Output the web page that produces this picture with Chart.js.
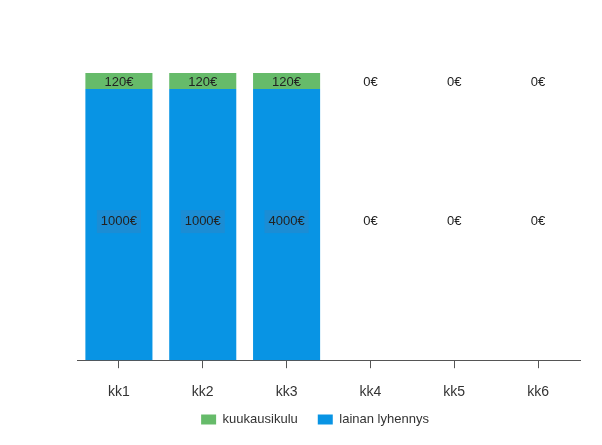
<!DOCTYPE html>
<html>
<head>
<meta charset="utf-8">
<script src="https://cdn.jsdelivr.net/npm/chart.js@4/dist/chart.umd.min.js"></script>
<style>
  body { margin: 0; background: #fff; }
</style>
</head>
<body>
<canvas id="myChart" width="602" height="445"></canvas>
<script>
// kuukaudet ja summat
const kuukaudet = ['kk1', 'kk2', 'kk3', 'kk4', 'kk5', 'kk6'];
const kuukausikulu = [120, 120, 120, 0, 0, 0];
const lainanLyhennys = [1000, 1000, 4000, 0, 0, 0];
// pylväiden korkeudet kuten kuvassa (kaikki täydet pylväät yhtä korkeita)
const kuluPalkki = [1, 1, 1, 0, 0, 0];
const lyhennysPalkki = [17, 17, 17, 0, 0, 0];

const sininen = '#0894e4';
const vihrea = '#66bb6a';

Chart.defaults.font.family = "'Liberation Sans', Arial, sans-serif";
Chart.defaults.font.size = 13;
Chart.defaults.color = '#333';

// tekstit pylväiden päälle
const summaTekstit = {
  id: 'summaTekstit',
  afterDatasetsDraw(chart) {
    const ctx = chart.ctx;
    const xs = chart.scales.x;
    const ys = chart.scales.y;
    const alaMax = Math.max(...lyhennysPalkki);
    const ylaMax = Math.max(...kuluPalkki);
    const rivit = [
      { summat: lainanLyhennys, keski: alaMax / 2, siirto: -3, tausta: '#1b8dd5' },
      { summat: kuukausikulu, keski: alaMax + ylaMax / 2, siirto: 1, tausta: null }
    ];
    ctx.save();
    ctx.font = "13px 'Liberation Sans', Arial, sans-serif";
    ctx.textAlign = 'center';
    ctx.textBaseline = 'middle';
    rivit.forEach((r) => {
      const py = ys.getPixelForValue(r.keski) + r.siirto;
      r.summat.forEach((s, i) => {
        const px = xs.getPixelForValue(i);
        const teksti = s + '€';
        if (r.tausta && s > 0) {
          const w = ctx.measureText(teksti).width + 8;
          ctx.fillStyle = r.tausta;
          ctx.fillRect(px - w / 2, py - 11.5, w, 23);
        }
        ctx.fillStyle = '#222';
        ctx.fillText(teksti, px, py);
      });
    });
    ctx.restore();
  }
};

// selite hieman ylemmäs
const seliteYlos = {
  id: 'seliteYlos',
  afterLayout(chart) {
    if (chart.legend) {
      chart.legend.top -= 24;
      chart.legend.bottom -= 24;
    }
  }
};

const graphArea = document.getElementById('myChart').getContext('2d');
const myChart = new Chart(graphArea, {
  type: 'bar',
  data: {
    labels: kuukaudet,
    datasets: [
      {
        label: 'lainan lyhennys',
        data: lyhennysPalkki,
        backgroundColor: sininen,
        categoryPercentage: 1,
        barPercentage: 0.8
      },
      {
        label: 'kuukausikulu',
        data: kuluPalkki,
        backgroundColor: vihrea,
        categoryPercentage: 1,
        barPercentage: 0.8
      }
    ]
  },
  options: {
    responsive: false,
    animation: false,
    layout: { padding: { left: 50, right: 22, top: 73, bottom: -15 } },
    plugins: {
      tooltip: { enabled: false },
      legend: {
        position: 'bottom',
        reverse: true,
        labels: { boxWidth: 15, boxHeight: 10, padding: 20, color: '#333' }
      }
    },
    scales: {
      x: {
        stacked: true,
        grid: { display: true, drawOnChartArea: false, offset: false, tickLength: 8, color: '#555' },
        border: { color: '#555' },
        ticks: { padding: 16, color: '#333', font: { size: 14 } }
      },
      y: {
        stacked: true,
        min: 0,
        max: 18,
        grid: { display: false },
        border: { display: false },
        ticks: { display: false },
        afterFit(scale) { scale.width = 27; }
      }
    }
  },
  plugins: [summaTekstit, seliteYlos]
});
</script>
</body>
</html>
